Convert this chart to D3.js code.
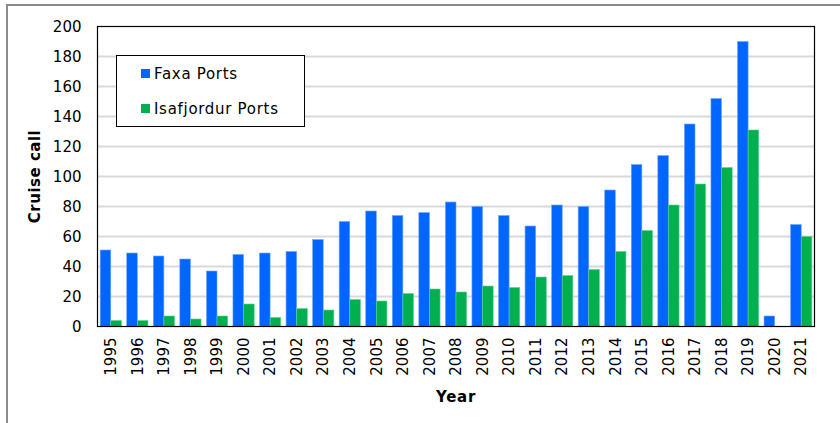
<!DOCTYPE html>
<html>
<head>
<meta charset="utf-8">
<script src="https://cdn.jsdelivr.net/npm/d3@7"></script>
<style>
  body { margin: 0; background: #fff; }
  svg { display: block; font-family: "DejaVu Sans", Verdana, sans-serif; }
</style>
</head>
<body>
<svg id="chart" width="840" height="423"></svg>
<script>
/*------------------- data --------------------*/
const years = ["1995", "1996", "1997", "1998", "1999", "2000", "2001", "2002", "2003",
    "2004", "2005", "2006", "2007", "2008", "2009", "2010", "2011", "2012", "2013",
    "2014", "2015", "2016", "2017", "2018", "2019", "2020", "2021"];
const faxa = [51, 49, 47, 45, 37, 48, 49, 50, 58, 70, 77, 74, 76, 83, 80, 74, 67, 81, 80,
    91, 108, 114, 135, 152, 190, 7, 68];
const isafjordur = [4, 4, 7, 5, 7, 15, 6, 12, 11, 18, 17, 22, 25, 23, 27, 26, 33, 34, 38,
    50, 64, 81, 95, 106, 131, 0, 60];
const seriesNames = ["Faxa Ports", "Isafjordur Ports"];
const yTicks = [0, 20, 40, 60, 80, 100, 120, 140, 160, 180, 200];

const colors = ["#0066ff", "#00b050"];

/*------------------- layout --------------------*/
const plot = { left: 97.5, top: 26.5, right: 814.5, bottom: 326.5 };

const svg = d3.select("#chart");

// outer frame (top and left only visible)
svg.append("path")
    .attr("d", "M7,423 L7,5 L840,5")
    .attr("fill", "none")
    .attr("stroke", "#8c8c8c")
    .attr("stroke-width", 2);

const x = d3.scaleBand()
    .domain(years)
    .range([plot.left, plot.right])
    .paddingInner(0.2)
    .paddingOuter(0.1);

const xSub = d3.scaleBand()
    .domain(seriesNames)
    .range([0, x.bandwidth()]);

const y = d3.scaleLinear()
    .domain([0, 200])
    .range([plot.bottom, plot.top]);

// gridlines
svg.append("g")
    .selectAll("line")
    .data(yTicks.filter(d => d > 0 && d < 200))
    .enter()
    .append("line")
    .attr("x1", plot.left)
    .attr("x2", plot.right)
    .attr("y1", d => y(d))
    .attr("y2", d => y(d))
    .attr("stroke", "#d9d9d9")
    .attr("stroke-width", 2);

// bars
const table = years.map((yr, i) => ({ year: yr, values: [faxa[i], isafjordur[i]] }));

svg.append("g")
    .selectAll("g")
    .data(table)
    .enter()
    .append("g")
    .attr("transform", d => `translate(${x(d.year)},0)`)
    .selectAll("rect")
    .data(d => d.values.map((v, k) => ({ name: seriesNames[k], value: v, k: k })))
    .enter()
    .filter(d => d.value > 0)
    .append("rect")
    .attr("x", d => xSub(d.name))
    .attr("width", xSub.bandwidth())
    .attr("y", d => y(d.value))
    .attr("height", d => y(0) - y(d.value))
    .attr("fill", d => colors[d.k])
    .attr("stroke", d => d.k === 0 ? "#6fa8ff" : "#5fd08f")
    .attr("stroke-width", 0.6);

// plot frame
svg.append("rect")
    .attr("x", plot.left)
    .attr("y", plot.top)
    .attr("width", plot.right - plot.left)
    .attr("height", plot.bottom - plot.top)
    .attr("fill", "none")
    .attr("stroke", "#000")
    .attr("stroke-width", 1.2);

// y axis
const yAxis = svg.append("g")
    .attr("transform", `translate(${plot.left},0)`)
    .call(d3.axisLeft(y).tickValues(yTicks).tickSize(0).tickPadding(16));
yAxis.select(".domain").remove();
yAxis.selectAll("text")
    .attr("font-family", "DejaVu Sans, Verdana, sans-serif")
    .attr("font-size", 15)
    .attr("fill", "#000");

// x axis
const xAxis = svg.append("g")
    .attr("transform", `translate(0,${plot.bottom})`)
    .call(d3.axisBottom(x).tickSize(0));
xAxis.select(".domain").remove();
xAxis.selectAll("text")
    .attr("font-family", "DejaVu Sans, Verdana, sans-serif")
    .attr("font-size", 15)
    .attr("fill", "#000")
    .attr("transform", "rotate(-90)")
    .attr("text-anchor", "end")
    .attr("x", -11)
    .attr("y", 0)
    .attr("dy", "0.35em");

// axis titles
svg.append("text")
    .attr("transform", `translate(40,${(plot.top + plot.bottom) / 2}) rotate(-90)`)
    .attr("text-anchor", "middle")
    .attr("font-size", 15)
    .attr("font-weight", "bold")
    .attr("letter-spacing", 0.5)
    .text("Cruise call");

svg.append("text")
    .attr("x", (plot.left + plot.right) / 2)
    .attr("y", 402)
    .attr("text-anchor", "middle")
    .attr("font-size", 15)
    .attr("font-weight", "bold")
    .attr("letter-spacing", 0.7)
    .text("Year");

// legend
const legend = svg.append("g");
legend.append("rect")
    .attr("x", 116.5)
    .attr("y", 55.5)
    .attr("width", 188)
    .attr("height", 71)
    .attr("fill", "#fff")
    .attr("stroke", "#000")
    .attr("stroke-width", 1);

const items = legend.selectAll("g.item")
    .data(seriesNames)
    .enter()
    .append("g")
    .attr("class", "item")
    .attr("transform", (d, i) => `translate(141,${69 + i * 35})`);
items.append("rect")
    .attr("width", 9)
    .attr("height", 9)
    .attr("fill", (d, i) => colors[i]);
items.append("text")
    .attr("x", 13)
    .attr("y", 9.5)
    .attr("font-size", 15)
    .attr("letter-spacing", 0.7)
    .text(d => d);
</script>
</body>
</html>
